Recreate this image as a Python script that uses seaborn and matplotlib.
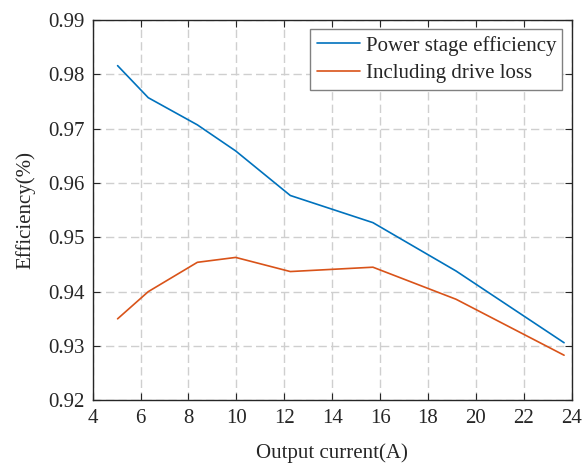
import pandas as pd
import matplotlib
matplotlib.use("Agg")
import matplotlib.pyplot as plt
import seaborn as sns

# values
current = [5.04, 6.32, 8.37, 9.97, 12.25, 15.70, 19.17, 23.68]
power_stage = [0.9816, 0.9757, 0.9707, 0.9659, 0.9577, 0.9527, 0.9438, 0.9306]
with_drive = [0.9350, 0.9400, 0.9454, 0.9463, 0.9437, 0.9445, 0.9386, 0.9283]
series_names = ["Power stage efficiency", "Including drive loss"]
colors = ["#0072BD", "#D95319"]

sns.set_theme(style="ticks")
plt.rcParams['font.family'] = ['Liberation Serif', 'DejaVu Serif']

data = pd.DataFrame({
    "current": current * 2,
    "eff": power_stage + with_drive,
    "series": [series_names[0]] * len(current) + [series_names[1]] * len(current),
})

fig = plt.figure(figsize=(5.84, 4.63), dpi=100)
ax = fig.add_axes([0.1587, 0.1354, 0.9790 - 0.1587, 0.9568 - 0.1354])

sns.lineplot(
    data=data,
    x="current",
    y="eff",
    hue="series",
    palette=colors,
    linewidth=1.2,
    ax=ax,
)

ax.set_xlim(4, 24)
ax.set_ylim(0.92, 0.99)
ax.set_xticks(range(4, 25, 2))
ax.set_yticks([0.92, 0.93, 0.94, 0.95, 0.96, 0.97, 0.98, 0.99])
ax.set_yticklabels([f"{v:.2f}" for v in ax.get_yticks()])

ax.grid(True, linestyle=(0, (6, 3)), color="#cfcfcf", linewidth=1.0)
for side in ax.spines.values():
    side.set_color("#262626")
    side.set_linewidth(1.0)
ax.tick_params(direction="in", top=True, right=True, length=5,
               width=0.8, color="#262626", labelsize=15, labelcolor="#262626", pad=6)

ax.set_xlabel("Output current(A)", fontsize=15, color="#262626", labelpad=11)
ax.set_ylabel("Efficiency(%)", fontsize=15, color="#262626", labelpad=9)

leg = ax.legend(loc="upper right", fontsize=15, frameon=True, fancybox=False,
                framealpha=1, edgecolor="#808080", handlelength=2.1,
                handletextpad=0.25, borderpad=0.3, labelspacing=0.4,
                borderaxespad=0.45, title=None)
leg.get_frame().set_linewidth(1.0)

fig.savefig("out.png", dpi=100)
